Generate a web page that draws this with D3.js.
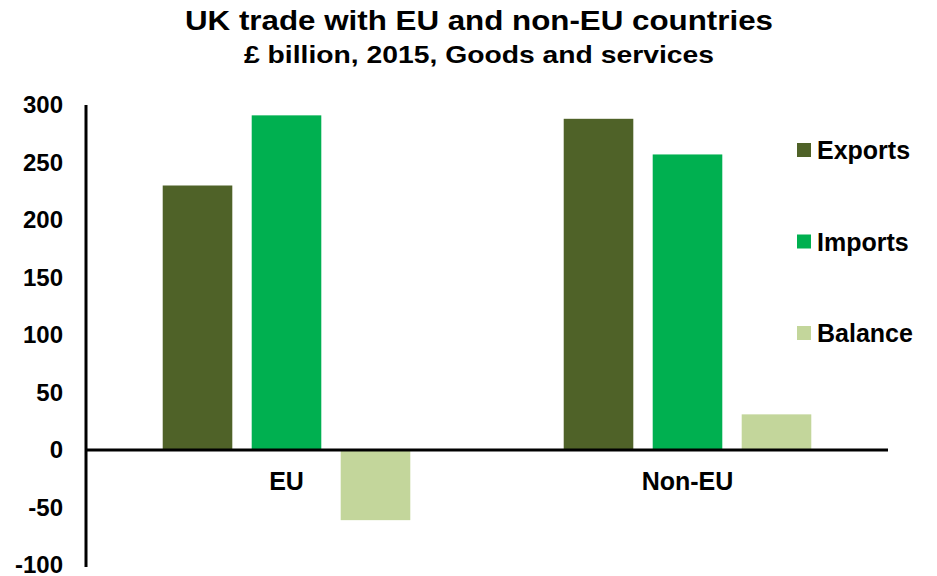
<!DOCTYPE html>
<html>
<head>
<meta charset="utf-8">
<script src="https://cdn.jsdelivr.net/npm/d3@7"></script>
<style>
  body { margin: 0; background: #fff; }
  text { font-family: "Liberation Sans", Arial, sans-serif; font-weight: bold; fill: #000; }
</style>
</head>
<body>
<div id="chart"></div>
<script>
var categories = ["EU", "Non-EU"]
var series = ["Exports", "Imports", "Balance"]
var exportsVals = [230, 288]
var importsVals = [291, 257]
var balanceVals = [-61, 31]
var yTicks = [-100, -50, 0, 50, 100, 150, 200, 250, 300]
var colors = ["#4F6228", "#00B050", "#C3D69B"]

var width = 937, height = 576
var margin = {top: 105, right: 49, bottom: 11, left: 86}

var svg = d3.select("#chart").append("svg")
  .attr("width", width)
  .attr("height", height)

// titles (the source text is a bit wider than the font, so stretch it)
svg.append("text")
  .attr("x", 185).attr("y", 30)
  .attr("textLength", 588)
  .attr("lengthAdjust", "spacingAndGlyphs")
  .style("font-size", "28px")
  .text("UK trade with EU and non-EU countries")
svg.append("text")
  .attr("x", 244).attr("y", 63)
  .attr("textLength", 470)
  .attr("lengthAdjust", "spacingAndGlyphs")
  .style("font-size", "24px")
  .text("£ billion, 2015, Goods and services")

var rows = categories.map((c, i) => ({
  cat: c,
  vals: [exportsVals[i], importsVals[i], balanceVals[i]]
}))

var x0 = d3.scaleBand()
  .domain(categories)
  .range([margin.left, width - margin.right])
  .padding(0)

var x1 = d3.scaleBand()
  .domain(series)
  .range([0, x0.bandwidth()])
  .paddingInner(0.218)
  .paddingOuter(0.862)

var y = d3.scaleLinear()
  .domain([-100, 300])
  .range([565, 105])

// bars
var groups = svg.selectAll("g.group")
  .data(rows)
  .enter().append("g")
  .attr("class", "group")
  .attr("transform", d => "translate(" + x0(d.cat) + ",0)")

groups.selectAll("rect")
  .data(d => d.vals.map((v, j) => ({s: series[j], v: v, j: j})))
  .enter().append("rect")
  .attr("x", d => x1(d.s))
  .attr("width", x1.bandwidth())
  .attr("y", d => y(Math.max(0, d.v)))
  .attr("height", d => Math.abs(y(d.v) - y(0)))
  .attr("fill", d => colors[d.j])

// y axis
var yAxis = svg.append("g")
  .attr("transform", "translate(" + margin.left + ",0)")
  .call(d3.axisLeft(y).tickValues(yTicks).tickFormat(d => String(d)).tickSize(0).tickPadding(23))
yAxis.select(".domain").attr("stroke", "#000").attr("stroke-width", 3)
  .attr("d", "M0," + y(300) + "V" + (y(-100) + 2))
yAxis.selectAll("text")
  .style("font-size", "24px")
  .style("font-family", "'Liberation Sans', Arial, sans-serif")
  .style("font-weight", "bold")
  .attr("fill", "#000")

// zero line
svg.append("line")
  .attr("x1", margin.left).attr("x2", width - margin.right)
  .attr("y1", y(0)).attr("y2", y(0))
  .attr("stroke", "#000").attr("stroke-width", 3)

// category labels
svg.selectAll("text.cat")
  .data(categories)
  .enter().append("text")
  .attr("class", "cat")
  .attr("x", d => x0(d) + x0.bandwidth() / 2)
  .attr("y", 490)
  .attr("text-anchor", "middle")
  .style("font-size", "25px")
  .text(d => d)

// legend
var legend = svg.selectAll("g.legend")
  .data(series)
  .enter().append("g")
  .attr("class", "legend")
  .attr("transform", (d, i) => "translate(797," + (150 + i * 91.5) + ")")
legend.append("rect")
  .attr("x", 0).attr("y", -7)
  .attr("width", 14).attr("height", 14)
  .attr("fill", (d, i) => colors[i])
legend.append("text")
  .attr("x", 20).attr("y", 9)
  .style("font-size", "25px")
  .text(d => d)
</script>
</body>
</html>
